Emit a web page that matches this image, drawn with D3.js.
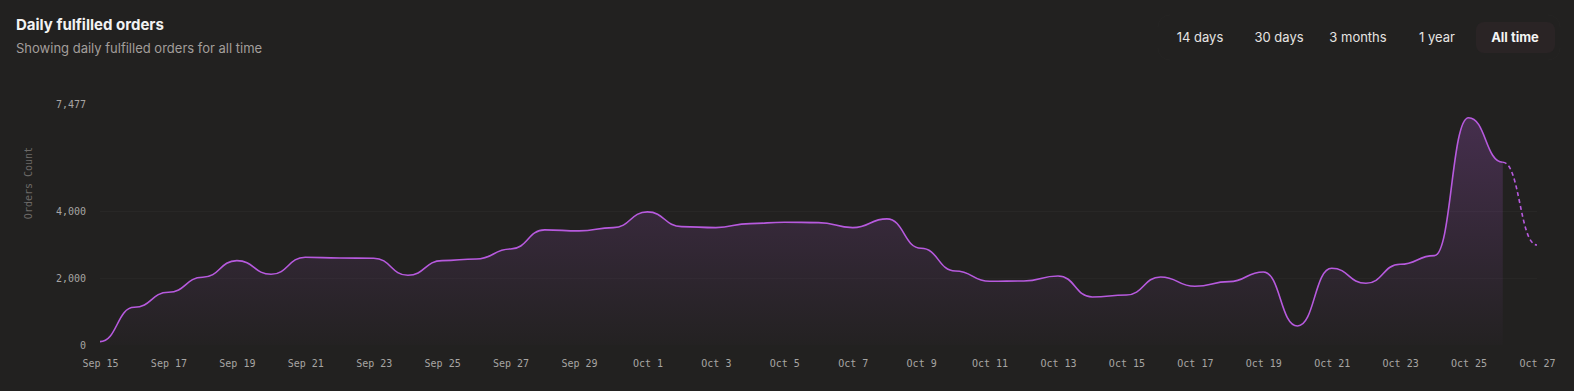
<!DOCTYPE html>
<html>
<head>
<meta charset="utf-8">
<script src="https://cdn.jsdelivr.net/npm/d3@7"></script>
<style>
  html, body { margin: 0; padding: 0; background: #222120; }
  svg { display: block; }
  .title { font-family: Inter, "Open Sans", sans-serif; font-weight: 700; font-size: 15px; fill: #f2f2f2; }
  .subtitle { font-family: Inter, "Open Sans", sans-serif; font-size: 13px; fill: #a29e9b; }
  .btn { font-family: Inter, "Open Sans", sans-serif; font-size: 13px; fill: #e6e4e2; }
  .btn.active { font-weight: 700; fill: #f4f4f4; }
  .tick-label { font-family: "DejaVu Sans Mono", monospace; font-size: 10px; fill: #a7a5a3; }
  .axis-title { font-family: "DejaVu Sans Mono", monospace; font-size: 10px; fill: #6d6a68; }
</style>
</head>
<body>
<script>
// Daily fulfilled orders, Sep 15 .. Oct 26 (actual), Oct 26 .. Oct 27 (projected)
const startDate = '2024-09-15';
const orders = [
  100, 1130, 1580, 2030, 2530, 2120, 2630, 2610, 2600, 2090,
  2530, 2580, 2880, 3450, 3420, 3520, 3990, 3550, 3520, 3640,
  3680, 3670, 3520, 3780, 2900, 2220, 1910, 1920, 2070, 1440,
  1500, 2040, 1760, 1900, 2190, 570, 2300, 1850, 2420, 2680,
  6815, 5480
];
const projected = [5480, 3000];
const yTicks = [0, 2000, 4000, 7477];
const ranges = ['14 days', '30 days', '3 months', '1 year', 'All time'];
const activeRange = 'All time';

const W = 1574, H = 391;
const parse = d3.timeParse('%Y-%m-%d');
const day0 = parse(startDate);
const actual = orders.map((v, i) => ({ date: d3.timeDay.offset(day0, i), value: v }));
const proj = projected.map((v, i) => ({ date: d3.timeDay.offset(day0, orders.length - 1 + i), value: v }));

const svg = d3.select('body').append('svg').attr('width', W).attr('height', H);

// header
svg.append('text').attr('class', 'title').attr('x', 16).attr('y', 30).text('Daily fulfilled orders');
svg.append('text').attr('class', 'subtitle').attr('x', 16).attr('y', 53).text('Showing daily fulfilled orders for all time');

// range buttons
const btnCenters = [1200, 1279, 1358, 1437, 1515];
svg.append('rect')
  .attr('x', 1158).attr('y', 15).attr('width', 402).attr('height', 45).attr('rx', 12)
  .attr('fill', 'none').attr('stroke', 'rgba(255,255,255,0.012)');
ranges.forEach((r, i) => {
  if (r === activeRange) {
    svg.append('rect')
      .attr('x', btnCenters[i] - 39).attr('y', 22).attr('width', 79).attr('height', 31).attr('rx', 8)
      .attr('fill', '#2a2425');
  }
  svg.append('text')
    .attr('class', 'btn' + (r === activeRange ? ' active' : ''))
    .attr('x', btnCenters[i]).attr('y', 42)
    .attr('text-anchor', 'middle')
    .text(r);
});

// scales
const x = d3.scaleTime()
  .domain([day0, proj[proj.length - 1].date])
  .range([100, 1537]);
const y = d3.scaleLinear()
  .domain([0, 7477])
  .range([345, 95.6]);

// gradient for area
const defs = svg.append('defs');
const grad = defs.append('linearGradient')
  .attr('id', 'fillGrad')
  .attr('gradientUnits', 'userSpaceOnUse')
  .attr('x1', 0).attr('x2', 0)
  .attr('y1', y(7477)).attr('y2', y(0));
grad.append('stop').attr('offset', '0%').attr('stop-color', '#b75ade').attr('stop-opacity', 0.26);
grad.append('stop').attr('offset', '100%').attr('stop-color', '#b75ade').attr('stop-opacity', 0.01);

// grid lines
svg.append('g').selectAll('line')
  .data(yTicks.filter(t => t > 0 && t < 7477))
  .join('line')
  .attr('x1', 100).attr('x2', 1537)
  .attr('y1', d => y(d)).attr('y2', d => y(d))
  .attr('stroke', 'rgba(255,255,255,0.03)');

// y tick labels
svg.append('g').selectAll('text')
  .data(yTicks)
  .join('text')
  .attr('class', 'tick-label')
  .attr('x', 86)
  .attr('y', d => d === 7477 ? y(d) + 8.4 : y(d))
  .attr('dy', '0.35em')
  .attr('text-anchor', 'end')
  .text(d => d3.format(',')(d));

// y axis title
svg.append('text')
  .attr('class', 'axis-title')
  .attr('transform', 'translate(32,183) rotate(-90)')
  .attr('text-anchor', 'middle')
  .text('Orders Count');

// x tick labels
const xAxis = d3.axisBottom(x)
  .ticks(d3.timeDay.every(2))
  .tickFormat(d3.timeFormat('%b %-d'))
  .tickSize(0)
  .tickPadding(0);
const gx = svg.append('g').attr('transform', 'translate(0,367)').call(xAxis);
gx.select('.domain').remove();
gx.selectAll('text')
  .attr('class', 'tick-label')
  .attr('dy', 0)
  .attr('fill', null);

// area + lines — bump curve: flat tangent at every point
const curve = d3.curveBumpX;
svg.append('path')
  .datum(actual)
  .attr('fill', 'url(#fillGrad)')
  .attr('d', d3.area().curve(curve).x(d => x(d.date)).y0(y(0)).y1(d => y(d.value)));

svg.append('path')
  .datum(actual)
  .attr('fill', 'none')
  .attr('stroke', '#b75ade')
  .attr('stroke-width', 1.6)
  .attr('d', d3.line().curve(curve).x(d => x(d.date)).y(d => y(d.value)));

// projected (dashed) segment
svg.append('path')
  .datum(proj)
  .attr('fill', 'none')
  .attr('stroke', '#b75ade')
  .attr('stroke-width', 1.6)
  .attr('stroke-dasharray', '4 3')
  .attr('d', d3.line().curve(curve).x(d => x(d.date)).y(d => y(d.value)));
</script>
</body>
</html>
